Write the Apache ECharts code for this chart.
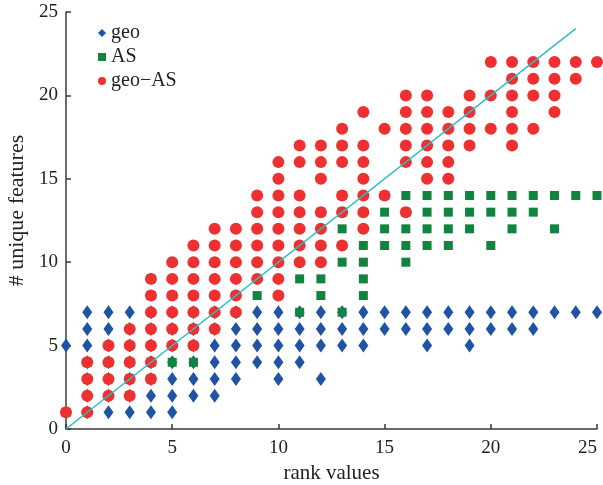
<!DOCTYPE html>
<html>
<head>
<meta charset="utf-8">
<script src="https://cdn.jsdelivr.net/npm/echarts@6/dist/echarts.min.js"></script>
<style>
    html, body { margin: 0; padding: 0; background: #fff; }
    #chart { width: 603px; height: 485px; }
</style>
</head>
<body>
<div id="chart"></div>
<script>
// rank value (x) for each column below
var ranks = [0, 1, 2, 3, 4, 5, 6, 7, 8, 9, 10, 11, 12, 13, 14, 15, 16, 17, 18, 19, 20, 21, 22, 23, 24, 25];

// # unique features for each rank, one list per series
var geoY = [
    [5], [1, 2, 3, 4, 5, 6, 7], [1, 2, 3, 4, 5, 6, 7], [1, 2, 3, 4, 5, 6, 7], [1, 2, 3, 4, 5, 6, 7],
    [1, 2, 3, 4, 5, 6, 7], [2, 3, 4, 5, 6, 7], [2, 3, 4, 5, 6, 7], [3, 4, 5, 6, 7], [4, 5, 6, 7],
    [3, 4, 5, 6, 7], [4, 5, 6, 7], [3, 5, 6, 7], [5, 6, 7], [5, 6, 7],
    [6, 7], [6, 7], [5, 6, 7], [6, 7], [5, 6, 7],
    [6, 7], [6, 7], [6, 7], [7], [7], [7]
];
var asY = [
    [1], [4], [4], [2, 3, 4], [3, 4, 8, 9],
    [4], [4, 5, 6], [], [], [8],
    [], [7, 9], [8, 9, 13], [7, 10, 12, 13, 14], [8, 9, 10, 11],
    [11, 12, 13, 14], [10, 11, 12, 13, 14], [11, 12, 13, 14], [11, 12, 13, 14], [12, 13, 14],
    [11, 13, 14], [12, 13, 14], [13, 14], [12, 14], [14], [14]
];
var geoAsY = [
    [1], [1, 2, 3, 4], [2, 3, 4, 5], [2, 3, 4, 5, 6], [3, 4, 5, 6, 7, 8, 9],
    [5, 6, 7, 8, 9, 10], [5, 6, 7, 8, 9, 10, 11], [6, 7, 8, 9, 10, 11, 12], [7, 8, 9, 10, 11, 12], [9, 10, 11, 12, 13, 14],
    [8, 9, 10, 11, 12, 13, 14, 15, 16], [10, 11, 12, 13, 14, 16, 17], [10, 11, 12, 13, 15, 16, 17], [11, 13, 14, 16, 17, 18], [12, 13, 14, 15, 16, 17, 19],
    [14, 18], [13, 16, 17, 18, 19, 20], [15, 16, 17, 18, 19, 20], [15, 16, 17, 18, 19], [17, 18, 19, 20],
    [18, 20, 22], [17, 18, 19, 20, 21, 22], [18, 20, 21, 22], [19, 20, 21, 22], [21, 22], [22]
];

// reference diagonal
var diagX = [0, 24];
var diagY = [0, 24];

var tickLabels = ['0', '5', '10', '15', '20', '25'];

function toPoints(cols) {
    var pts = [];
    cols.forEach(function (ys, i) {
        ys.forEach(function (y) {
            pts.push([ranks[i], y]);
        });
    });
    return pts;
}

var font = 'Liberation Serif';
var myChart = echarts.init(document.getElementById('chart'));

var option = {
    animation: false,
    grid: {
        left: 66,
        right: 6,
        top: 12,
        bottom: 56,
        outerBoundsMode: 'none',
    },
    legend: {
        orient: 'vertical',
        left: 93,
        top: 18,
        itemWidth: 8,
        itemHeight: 8,
        itemGap: 4,
        textStyle: {fontFamily: font, fontSize: 20, color: '#222'},
        data: [
            {name: 'geo', icon: 'diamond'},
            {name: 'AS', icon: 'rect'},
            {name: 'geo−AS', icon: 'circle'},
        ],
    },
    xAxis: {
        type: 'value',
        min: 0,
        max: 25,
        interval: 5,
        name: 'rank values',
        nameLocation: 'middle',
        nameGap: 29,
        nameTextStyle: {fontFamily: font, fontSize: 21, color: '#222'},
        axisLine: {lineStyle: {color: '#3a3a3a', width: 1.5}},
        axisTick: {inside: true, length: 5, lineStyle: {color: '#3a3a3a', width: 1.5}},
        axisLabel: {
            fontFamily: font, fontSize: 19, color: '#222', margin: 10,
            alignMaxLabel: 'right',
            formatter: function (v) { return tickLabels[v / 5]; }
        },
        splitLine: {show: false},
    },
    yAxis: {
        type: 'value',
        min: 0,
        max: 25,
        interval: 5,
        name: '# unique features',
        nameLocation: 'middle',
        nameGap: 32,
        nameTextStyle: {fontFamily: font, fontSize: 22, color: '#222', padding: [0, 0, 0, 20]},
        axisLine: {lineStyle: {color: '#3a3a3a', width: 1.5}},
        axisTick: {inside: true, length: 5, lineStyle: {color: '#3a3a3a', width: 1.5}},
        axisLabel: {
            fontFamily: font, fontSize: 19, color: '#222', margin: 8,
            formatter: function (v) { return tickLabels[v / 5]; }
        },
        splitLine: {show: false},
    },
    series: [
        {
            name: 'geo',
            type: 'scatter',
            symbol: 'diamond',
            symbolSize: [10, 14],
            itemStyle: {color: '#1f53a3', opacity: 1},
            data: toPoints(geoY),
        },
        {
            name: 'AS',
            type: 'scatter',
            symbol: 'rect',
            symbolSize: 9,
            itemStyle: {color: '#11843f', opacity: 1},
            data: toPoints(asY),
        },
        {
            name: 'geo−AS',
            type: 'scatter',
            symbol: 'circle',
            symbolSize: 12,
            itemStyle: {color: '#ee3031', opacity: 1},
            data: toPoints(geoAsY),
        },
        {
            name: 'diagonal',
            type: 'line',
            symbol: 'none',
            silent: true,
            z: 5,
            lineStyle: {color: '#2bbfc4', width: 1.5},
            data: diagX.map(function (x, i) { return [x, diagY[i]]; }),
        },
    ]
};

myChart.setOption(option);
</script>
</body>
</html>
